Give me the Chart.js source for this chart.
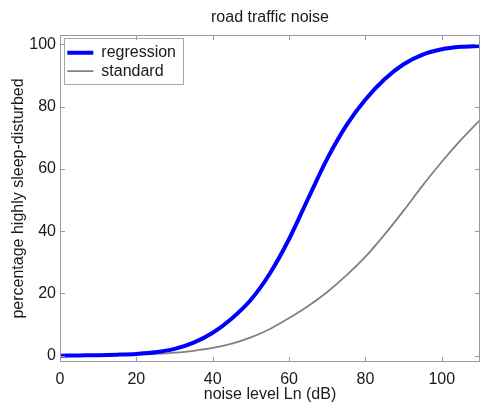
<!DOCTYPE html>
<html>
<head>
<meta charset="utf-8">
<script src="https://cdn.jsdelivr.net/npm/chart.js@4.4.1/dist/chart.umd.min.js"></script>
<style>
  html, body { margin: 0; padding: 0; background: #ffffff; }
  #wrap { width: 481px; height: 409px; position: relative; }
</style>
</head>
<body>
<div id="wrap"><canvas id="c" width="481" height="409"></canvas></div>
<script>
// ---- data ----
const chartTitle = 'road traffic noise';
const xAxisTitle = 'noise level Ln (dB)';
const yAxisTitle = 'percentage highly sleep-disturbed';
const seriesNames = ['regression', 'standard'];
const noiseLevels = [0, 5, 10, 15, 20, 25, 30, 35, 40, 45, 50, 55, 60, 65, 70, 75, 80, 85, 90, 95, 100, 105, 110];
const regression  = [0.0, 0.1, 0.2, 0.35, 0.6, 1.1, 2.2, 4.2, 7.4, 12.0, 18.0, 26.5, 37.5, 50.5, 63.3, 74.0, 82.3, 88.8, 93.6, 96.7, 98.4, 99.2, 99.5];
const standard    = [0.0, 0.05, 0.1, 0.2, 0.35, 0.6, 1.0, 1.6, 2.5, 3.9, 5.9, 8.6, 12.1, 16.0, 20.5, 25.8, 31.8, 38.9, 46.6, 54.7, 62.3, 69.3, 75.7];
const xTicks = [0, 20, 40, 60, 80, 100];
const yTicks = [0, 20, 40, 60, 80, 100];

const FONT = "'Liberation Sans', Arial, Helvetica, sans-serif";
const TEXT = '#1a1a1a';
const AXIS = '#9a9a9a';

const toPoints = (ys) => noiseLevels.map((x, i) => ({ x: x, y: ys[i] }));

// draws the MATLAB-style box with inward ticks on all sides
const boxPlugin = {
  id: 'boxPlugin',
  afterDatasetsDraw(chart) {
    const { ctx, chartArea: a, scales } = chart;
    const tl = 5;
    ctx.save();
    ctx.strokeStyle = AXIS;
    ctx.lineWidth = 1;
    ctx.beginPath();
    scales.x.ticks.forEach(t => {
      const px = Math.round(scales.x.getPixelForValue(t.value)) + 0.5;
      ctx.moveTo(px, a.bottom); ctx.lineTo(px, a.bottom - tl);
      ctx.moveTo(px, a.top); ctx.lineTo(px, a.top + tl);
    });
    scales.y.ticks.forEach(t => {
      const py = Math.round(scales.y.getPixelForValue(t.value)) + 0.5;
      ctx.moveTo(a.left, py); ctx.lineTo(a.left + tl, py);
      ctx.moveTo(a.right, py); ctx.lineTo(a.right - tl, py);
    });
    ctx.stroke();
    ctx.strokeRect(Math.round(a.left) + 0.5, Math.round(a.top) + 0.5,
                   Math.round(a.right - a.left) - 1, Math.round(a.bottom - a.top) - 1);
    // legend frame
    const lg = chart.legend;
    if (lg && lg.legendHitBoxes && lg.legendHitBoxes.length) {
      ctx.strokeStyle = '#a8a8a8';
      ctx.strokeRect(64.5, 38.5, 119, 46);
    }
    ctx.restore();
  }
};

// shift the in-plot legend so it sits where the reference shows it
const legendShift = {
  id: 'legendShift',
  afterLayout(chart) {
    const lg = chart.legend;
    if (!lg) return;
    const dx = 67 - lg.left - 2;
    const dy = 42.5 - lg.top;
    lg.left += dx; lg.right += dx;
    lg.top += dy; lg.bottom += dy;
  }
};

new Chart(document.getElementById('c'), {
  type: 'line',
  data: {
    datasets: [
      {
        label: seriesNames[0],
        data: toPoints(regression),
        borderColor: '#0000ff',
        backgroundColor: '#0000ff',
        borderWidth: 4,
        pointRadius: 0,
        cubicInterpolationMode: 'monotone',
        fill: false
      },
      {
        label: seriesNames[1],
        data: toPoints(standard),
        borderColor: '#808080',
        backgroundColor: '#808080',
        borderWidth: 1.8,
        pointRadius: 0,
        cubicInterpolationMode: 'monotone',
        fill: false
      }
    ]
  },
  options: {
    responsive: false,
    animation: false,
    devicePixelRatio: 1,
    layout: { padding: { left: 0, right: 1, top: 0, bottom: 0 } },
    plugins: {
      title: {
        display: true,
        text: chartTitle,
        fullSize: false,
        color: TEXT,
        font: { family: FONT, size: 16, weight: 'normal', lineHeight: 1.2 },
        padding: { top: 7.5, bottom: 8.3 }
      },
      legend: {
        display: true,
        position: 'chartArea',
        align: 'start',
        labels: {
          usePointStyle: true,
          pointStyle: 'line',
          pointStyleWidth: 26,
          padding: 2.3,
          color: TEXT,
          font: { family: FONT, size: 16 }
        }
      },
      tooltip: { enabled: false }
    },
    scales: {
      x: {
        type: 'linear',
        min: 0,
        max: 110,
        afterBuildTicks: (s) => { s.ticks = xTicks.map(v => ({ value: v })); },
        afterFit: (s) => { s.height = 47; },
        grid: { display: false, drawTicks: false },
        border: { display: false },
        ticks: { color: TEXT, padding: 8, maxRotation: 0, font: { family: FONT, size: 16 } },
        title: {
          display: true, text: xAxisTitle, color: TEXT,
          font: { family: FONT, size: 16, lineHeight: 1.2 },
          padding: { top: 0, bottom: 5 }
        }
      },
      y: {
        type: 'linear',
        min: -2,
        max: 103,
        afterBuildTicks: (s) => { s.ticks = yTicks.map(v => ({ value: v })); },
        afterFit: (s) => { s.width = 60; },
        grid: { display: false, drawTicks: false },
        border: { display: false },
        ticks: { color: TEXT, padding: 4, font: { family: FONT, size: 16 } },
        title: {
          display: true, text: yAxisTitle, color: TEXT,
          font: { family: FONT, size: 16, lineHeight: 1.2 },
          padding: { top: 9, bottom: 0 }
        }
      }
    }
  },
  plugins: [boxPlugin, legendShift]
});
</script>
</body>
</html>
